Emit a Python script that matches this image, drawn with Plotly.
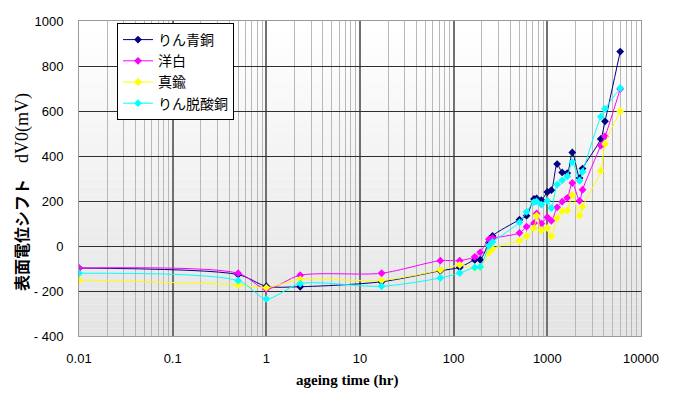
import plotly.graph_objects as go

# ---- data ----
hours = [0.01, 0.5, 1, 2.3, 17, 72, 116, 168, 192, 238, 260, 504, 600, 720, 768,
         864, 1000, 1104, 1272, 1440, 1632, 1848, 2208, 2376, 3720, 4128, 6000]

rin_seido = [-98, -127, -179, -181, -159, -110, -95, -62, -61, 16, 45, 117, 135, 209, 212,
             204, 240, 248, 364, 327, 324, 416, 302, 344, 476, 554, 864]
youhaku = [-98, -121, -191, -130, -121, -65, -65, -48, -28, 30, 35, 58, 86, 102, 145,
           100, 128, 112, 172, 197, 214, 280, 201, 250, 446, 487, 698]
shinchu = [-151, -173, -185, -148, -153, -107, -84, -97, -94, -31, -12, 24, 44, 79, 135,
           70, 80, 43, 124, 155, 158, 227, 135, 174, 335, 453, 599]
rin_dassan = [-121, -154, -235, -167, -179, -142, -120, -95, -93, 1, 18, 105, 152, 195, 198,
              184, 201, 168, 273, 292, 310, 373, 290, 330, 575, 609, 702]

series_names = ["りん青銅", "洋白", "真鍮", "りん脱酸銅"]
series_values = [rin_seido, youhaku, shinchu, rin_dassan]
series_colors = ["#000080", "#ff00ff", "#ffff00", "#00ffff"]

x_tickvals = [0.01, 0.1, 1, 10, 100, 1000, 10000]
x_ticktext = ["0.01", "0.1", "1", "10", "100", "1000", "10000"]
y_tickvals = [-400, -200, 0, 200, 400, 600, 800, 1000]
y_ticktext = ["- 400", "- 200", "0", "200", "400", "600", "800", "1000"]

fig = go.Figure()
for name, vals, col in zip(series_names, series_values, series_colors):
    fig.add_trace(go.Scatter(
        x=hours, y=vals, name=name, mode="lines+markers",
        line=dict(color=col, width=1, shape="spline", smoothing=0.8),
        marker=dict(symbol="diamond", size=6, color=col),
    ))

# background gradient (white at top to light grey at bottom)
shapes = []
n = 40
for i in range(n):
    t = i / (n - 1)
    c = int(round(255 - t * (255 - 228)))
    shapes.append(dict(
        type="rect", xref="paper", yref="paper",
        x0=0, x1=1, y0=1 - (i + 1) / n, y1=1 - i / n,
        fillcolor=f"rgb({c},{c},{c})", line=dict(width=0), layer="below",
    ))

# page body has an 8px margin, so the figure is offset by 8px
OFF = 8
W, H = 684 - OFF, 393 - OFF
PL, PR, PT, PB = 79, 641, 21, 336       # plot area in window pixels
L, T = PL - OFF, PT - OFF
pw, ph = PR - PL, PB - PT
R, B = W - L - pw, H - T - ph


def px_x(px):
    return (px - PL) / pw


def px_y(py):
    return (PB - py) / ph


fig.update_layout(
    width=W, height=H,
    margin=dict(l=L, r=R, t=T, b=B, pad=0, autoexpand=False),
    paper_bgcolor="white", plot_bgcolor="white",
    shapes=shapes,
    showlegend=True,
    legend=dict(
        x=px_x(117), y=px_y(23), xanchor="left", yanchor="top",
        bgcolor="white", bordercolor="black", borderwidth=1,
        font=dict(family="Noto Sans CJK JP", size=14, color="black"),
        tracegroupgap=0, itemwidth=30,
    ),
    font=dict(family="Liberation Sans", size=13, color="black"),
    annotations=[
        dict(
            text="<b>ageing time (hr)</b>", xref="paper", yref="paper",
            x=px_x(347), y=px_y(380),
            xanchor="center", yanchor="middle", showarrow=False,
            font=dict(family="Liberation Serif", size=15, color="black"),
        ),
        dict(
            text='<b>表面電位シフト</b>　<span style="font-family:Liberation Serif;font-size:18px">dV0(mV)</span>',
            xref="paper", yref="paper",
            x=px_x(21), y=px_y(192),
            xanchor="center", yanchor="middle", textangle=-90, showarrow=False,
            font=dict(family="Noto Sans CJK JP", size=16, color="black"),
        ),
    ],
)

fig.update_xaxes(
    type="log", range=[-2, 4],
    tickvals=x_tickvals, ticktext=x_ticktext,
    showgrid=True, gridcolor="#707070", gridwidth=1.5,
    minor=dict(dtick="D1", showgrid=True, gridcolor="#b8b8b8", gridwidth=1),
    showline=True, linecolor="#999999", linewidth=1, mirror=True,
    ticks="", ticklabelstandoff=10, zeroline=False, automargin=False,
    tickfont=dict(family="Liberation Sans", size=13, color="black"),
)
fig.update_yaxes(
    range=[-400, 1000],
    tickvals=y_tickvals, ticktext=y_ticktext,
    showgrid=True, gridcolor="#303030", gridwidth=1,
    showline=True, linecolor="#999999", linewidth=1, mirror=True,
    ticks="", ticklabelstandoff=12, zeroline=False, automargin=False,
    tickfont=dict(family="Liberation Sans", size=13, color="black"),
)

fig.write_html("out.html")
